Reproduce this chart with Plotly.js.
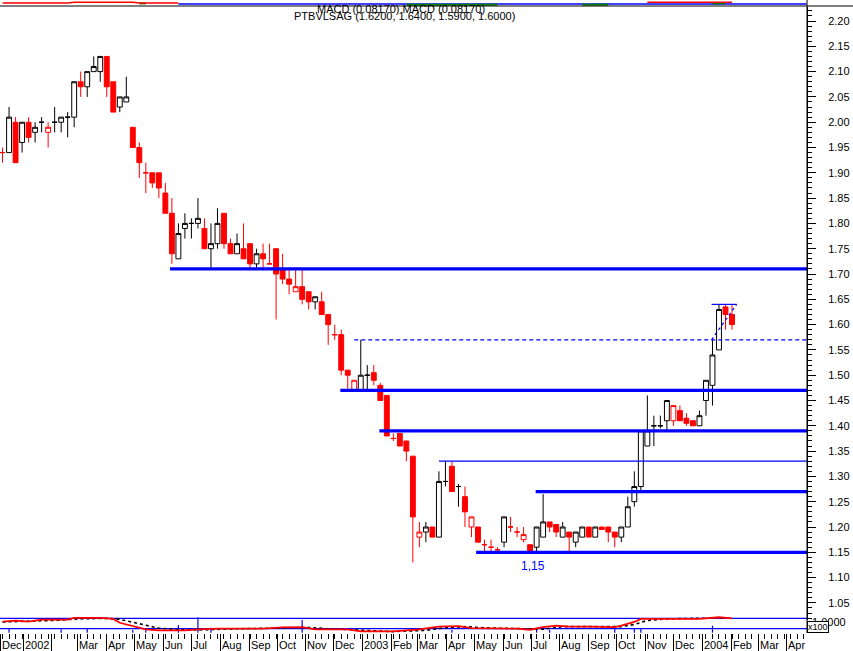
<!DOCTYPE html>
<html>
<head>
<meta charset="utf-8">
<script src="https://cdn.plot.ly/plotly-3.0.1.min.js"></script>
<style>
html,body{margin:0;padding:0;background:#fff;}
#chart{width:853px;height:651px;}
</style>
</head>
<body>
<div id="chart"></div>
<script>
// ---------- weekly candles ----------
const dates = [
'2001-12-10','2001-12-17','2001-12-24','2001-12-31',
'2002-01-07','2002-01-14','2002-01-21','2002-01-28','2002-02-04','2002-02-11','2002-02-18','2002-02-25',
'2002-03-04','2002-03-11','2002-03-18','2002-03-25','2002-04-01','2002-04-08','2002-04-15','2002-04-22','2002-04-29',
'2002-05-06','2002-05-13','2002-05-20','2002-05-27','2002-06-03','2002-06-10','2002-06-17','2002-06-24',
'2002-07-01','2002-07-08','2002-07-15','2002-07-22','2002-07-29','2002-08-05','2002-08-12','2002-08-19','2002-08-26',
'2002-09-02','2002-09-09','2002-09-16','2002-09-23','2002-09-30','2002-10-07','2002-10-14','2002-10-21','2002-10-28',
'2002-11-04','2002-11-11','2002-11-18','2002-11-25','2002-12-02','2002-12-09','2002-12-16','2002-12-23','2002-12-30',
'2003-01-06','2003-01-13','2003-01-20','2003-01-27','2003-02-03','2003-02-10','2003-02-17','2003-02-24',
'2003-03-03','2003-03-10','2003-03-17','2003-03-24','2003-03-31','2003-04-07','2003-04-14','2003-04-21','2003-04-28',
'2003-05-05','2003-05-12','2003-05-19','2003-05-26','2003-06-02','2003-06-09','2003-06-16','2003-06-23','2003-06-30',
'2003-07-07','2003-07-14','2003-07-21','2003-07-28','2003-08-04','2003-08-11','2003-08-18','2003-08-25',
'2003-09-01','2003-09-08','2003-09-15','2003-09-22','2003-09-29','2003-10-06','2003-10-13','2003-10-20','2003-10-27',
'2003-11-03','2003-11-10','2003-11-17','2003-11-24','2003-12-01','2003-12-08','2003-12-15','2003-12-22','2003-12-29',
'2004-01-05','2004-01-12','2004-01-19','2004-01-26','2004-02-02'
];
const openP = [
1.94,1.94,2.00,1.96,2.00,1.98,2.00,1.98,2.00,2.00,2.01,2.01,2.08,2.07,2.10,2.10,2.13,2.08,2.03,2.04,
1.99,1.95,1.90,1.90,1.90,1.86,1.82,1.73,1.79,1.80,1.80,1.79,1.75,1.76,1.82,1.76,1.74,1.75,1.76,1.72,
1.74,1.72,1.75,1.71,1.69,1.665,1.675,1.665,1.645,1.645,1.62,1.58,1.58,1.51,1.47,1.47,1.50,1.505,1.48,1.46,
1.375,1.385,1.37,1.34,1.18,1.19,1.20,1.18,1.29,1.32,1.28,1.26,1.20,1.20,1.165,1.16,1.155,1.17,1.20,1.19,
1.175,1.165,1.16,1.18,1.21,1.205,1.18,1.19,1.17,1.18,1.20,1.18,1.20,1.20,1.19,1.18,1.20,1.25,1.28,1.36,
1.40,1.40,1.41,1.41,1.43,1.415,1.41,1.40,1.45,1.48,1.55,1.635,1.62
];
const highP = [
1.95,2.03,2.01,2.00,2.01,2.00,2.01,2.00,2.03,2.01,2.02,2.08,2.10,2.10,2.13,2.13,2.13,2.08,2.05,2.09,
1.99,1.96,1.92,1.90,1.90,1.88,1.85,1.80,1.82,1.81,1.85,1.81,1.80,1.83,1.82,1.77,1.78,1.80,1.76,1.75,
1.76,1.76,1.75,1.74,1.71,1.71,1.71,1.665,1.655,1.665,1.62,1.60,1.59,1.51,1.49,1.57,1.52,1.52,1.485,1.46,
1.385,1.385,1.37,1.34,1.21,1.21,1.20,1.31,1.33,1.33,1.285,1.28,1.22,1.20,1.175,1.175,1.16,1.22,1.22,1.20,
1.20,1.165,1.20,1.265,1.21,1.205,1.21,1.19,1.19,1.20,1.20,1.20,1.20,1.20,1.19,1.20,1.26,1.31,1.39,1.46,
1.42,1.42,1.45,1.44,1.44,1.425,1.41,1.43,1.49,1.57,1.64,1.64,1.64
];
const lowP = [
1.92,1.94,1.92,1.94,1.96,1.96,1.98,1.95,1.98,1.98,1.97,1.99,2.05,2.05,2.10,2.08,2.05,2.02,2.02,2.04,
1.95,1.89,1.86,1.87,1.85,1.82,1.72,1.73,1.77,1.77,1.79,1.75,1.71,1.75,1.75,1.74,1.74,1.73,1.71,1.71,
1.71,1.72,1.61,1.68,1.66,1.665,1.64,1.63,1.63,1.62,1.56,1.57,1.50,1.47,1.47,1.47,1.47,1.48,1.45,1.38,
1.37,1.36,1.33,1.13,1.16,1.17,1.18,1.18,1.28,1.27,1.24,1.20,1.18,1.17,1.15,1.15,1.15,1.16,1.19,1.18,
1.17,1.15,1.15,1.18,1.19,1.18,1.18,1.15,1.16,1.18,1.18,1.18,1.195,1.17,1.16,1.17,1.20,1.24,1.27,1.36,
1.36,1.395,1.39,1.40,1.41,1.40,1.40,1.40,1.42,1.44,1.55,1.59,1.59
];
const closeP = [
1.94,2.01,1.92,2.00,1.97,1.99,2.00,1.99,2.00,2.01,2.01,2.08,2.07,2.10,2.11,2.13,2.07,2.02,2.05,2.05,
1.95,1.92,1.90,1.88,1.87,1.82,1.74,1.78,1.80,1.80,1.81,1.75,1.76,1.80,1.76,1.74,1.76,1.73,1.72,1.74,
1.73,1.72,1.70,1.69,1.68,1.675,1.65,1.645,1.655,1.62,1.60,1.58,1.51,1.50,1.49,1.50,1.50,1.49,1.45,1.38,
1.375,1.36,1.35,1.22,1.19,1.20,1.18,1.29,1.29,1.27,1.28,1.23,1.22,1.17,1.165,1.16,1.155,1.22,1.20,1.19,
1.185,1.15,1.20,1.21,1.20,1.19,1.20,1.18,1.19,1.20,1.18,1.20,1.195,1.19,1.18,1.20,1.24,1.28,1.39,1.39,
1.40,1.40,1.45,1.44,1.41,1.405,1.40,1.42,1.49,1.54,1.63,1.62,1.60
];
const startPrevClose = 1.95;

// ---------- drawn support / resistance lines ----------
const levelValues = [1.71, 1.57, 1.47, 1.39, 1.33, 1.27, 1.15];
const levelStarts = ['2002-06-08','2002-12-23','2002-12-08','2003-01-19','2003-03-24','2003-07-06','2003-05-03'];
const capX = ['2004-01-11','2004-02-07'];
const capY = [1.64, 1.64];
const trendX = ['2004-01-11','2004-02-07'];
const trendY = [1.57, 1.64];
const supportLabel = {x: '2003-07-02 18:00', y: 1.123, text: '1,15'};

// ---------- lower indicator panel ----------
const oscDates = ['2001-12-10','2001-12-24','2002-01-07','2002-01-21','2002-02-18','2002-02-25','2002-03-25','2002-04-08',
'2002-04-15','2002-04-29','2002-05-13','2002-05-27','2002-06-24','2002-07-08','2002-07-29','2002-09-16','2002-10-07',
'2002-10-28','2002-11-11','2002-12-16','2002-12-30','2003-02-03','2003-03-03','2003-03-24','2003-04-14','2003-04-28',
'2003-05-26','2003-06-16','2003-06-30','2003-07-14','2003-07-28','2003-08-11','2003-09-01','2003-09-29','2003-10-06',
'2003-10-20','2003-10-27','2003-11-17','2003-12-08','2003-12-29','2004-01-19','2004-02-02'];
const oscValues = [0.69,0.78,0.69,0.88,0.88,1.04,1.04,0.94,0.57,0.25,-0.07,-0.16,-0.16,-0.07,0,0,0.12,
0.15,-0.07,-0.07,-0.25,-0.25,-0.07,0.2,0.25,0.05,0,0,-0.1,0.15,0.3,0.2,0.2,0.15,0.3,0.65,0.94,0.94,1.0,0.94,1.1,1.0];
const sigDates = ['2001-12-10','2002-01-07','2002-02-04','2002-03-04','2002-04-01','2002-04-15','2002-04-29','2002-05-13',
'2002-05-27','2002-06-17','2002-07-08','2002-08-12','2002-10-07','2002-11-04','2002-11-25','2002-12-30','2003-02-03',
'2003-03-10','2003-03-31','2003-04-21','2003-05-12','2003-06-23','2003-07-14','2003-08-04','2003-09-01','2003-10-06',
'2003-10-20','2003-11-03','2003-11-24','2003-12-22','2004-01-19','2004-02-02'];
const sigValues = [0.65,0.72,0.8,0.95,1.0,0.9,0.6,0.3,0.05,-0.1,-0.12,-0.02,0.08,0.12,0.0,-0.15,-0.28,
-0.15,0.1,0.2,0.08,0.0,-0.05,0.2,0.22,0.2,0.4,0.8,0.95,0.98,1.0,1.05];
const oscBands = [0, 1];
const spikeDates = ['2001-12-17','2002-02-11','2002-03-11','2002-04-29','2002-05-13','2002-06-17','2002-07-08','2002-07-22',
'2002-10-28','2003-04-07','2003-07-07','2003-07-21','2003-09-29','2003-10-20','2003-10-27','2004-01-12'];
const spikeTops = [0,-0.06,0,-0.13,-0.08,0.36,1.1,0.1,0.84,-0.13,-0.13,-0.13,0.04,0.04,0.04,0.29];
const spikeBase = -0.385;

// ---------- top MACD strip (bottom edge of the MACD pane) ----------
const macdDates = ['2001-12-10','2002-02-18','2002-02-25','2002-04-29','2002-05-06','2002-06-17','2002-06-24'];
const macdValues = [3, 3, 3.8, 3.8, 3, 3, null];
const macdLateDates = ['2003-11-03','2004-02-02'];
const macdLateValues = [3.8, 3.8];
const signalDates = ['2002-06-17','2004-04-22'];
const signalValues = [2, 2];
const histDates = ['2002-05-06','2002-05-13',null,'2003-02-17','2003-05-26',null,'2003-08-25','2003-09-22',null,'2004-01-12','2004-01-26'];
const histValues = [2.6,2.6,null,1.3,1.3,null,1.3,1.3,null,2.6,2.6];
const macdText = 'MACD (0.08170) MACD (0.08170)';
const symbol = 'PTBVLSAG';

// ---------- axes ----------
const monthTicks = ['2001-12-08','2002-01-01','2002-02-01','2002-03-01','2002-04-01','2002-05-01','2002-06-01','2002-07-01',
'2002-08-01','2002-09-01','2002-10-01','2002-11-01','2002-12-01','2003-01-01','2003-02-01','2003-03-01','2003-04-01',
'2003-05-01','2003-06-01','2003-07-01','2003-08-01','2003-09-01','2003-10-01','2003-11-01','2003-12-01','2004-01-01',
'2004-02-01','2004-03-01','2004-04-01'];
const monthLabels = ['Dec','2002','','Mar','Apr','May','Jun','Jul','Aug','Sep','Oct','Nov','Dec','2003','Feb','Mar','Apr',
'May','Jun','Jul','Aug','Sep','Oct','Nov','Dec','2004','Feb','Mar','Apr'];
const xRange = ['2001-12-07 06:30','2004-04-22 14:00'];

// ---------- build ----------
const RED = '#ff0000', BLUE = '#0000ff', BLACK = '#000000', GREEN = '#008000';
const W = 853, H = 651, PLOTW = 807;
const py = p => 1 - p / H;   // pixel row -> paper y
const px = p => p / PLOTW;   // pixel col -> paper x

const redIdx = [], blackIdx = [];
closeP.forEach((c, i) => {
  const prev = i ? closeP[i - 1] : startPrevClose;
  (c < prev ? redIdx : blackIdx).push(i);
});
function candles(idx, col) {
  return {
    type: 'candlestick', xaxis: 'x', yaxis: 'y',
    x: idx.map(i => dates[i]), open: idx.map(i => openP[i]), high: idx.map(i => highP[i]),
    low: idx.map(i => lowP[i]), close: idx.map(i => closeP[i]),
    increasing: {line: {color: col, width: 1}, fillcolor: '#ffffff'},
    decreasing: {line: {color: col, width: 1}, fillcolor: col},
    whiskerwidth: 0, hoverinfo: 'skip', showlegend: false
  };
}
const traces = [candles(blackIdx, BLACK), candles(redIdx, RED)];

const levelWidths = [3.2, 1.2, 3.2, 3.2, 1.2, 3.2, 3.2];
const levelDash = ['solid', '4px,3px', 'solid', 'solid', 'solid', 'solid', 'solid'];
levelValues.forEach((v, k) => {
  traces.push({type: 'scatter', mode: 'lines', xaxis: 'x', yaxis: 'y',
    x: [levelStarts[k], xRange[1]], y: [v, v],
    line: {color: BLUE, width: levelWidths[k], dash: levelDash[k]}, hoverinfo: 'skip', showlegend: false});
});
traces.push({type: 'scatter', mode: 'lines', x: capX, y: capY, line: {color: BLUE, width: 1.2}, hoverinfo: 'skip', showlegend: false});
traces.push({type: 'scatter', mode: 'lines', x: trendX, y: trendY, line: {color: BLUE, width: 1.2, dash: 'dot'}, hoverinfo: 'skip', showlegend: false});

// lower panel
oscBands.forEach(v => traces.push({type: 'scatter', mode: 'lines', xaxis: 'x', yaxis: 'y2',
  x: xRange, y: [v, v], line: {color: BLUE, width: 1.3}, hoverinfo: 'skip', showlegend: false}));
const sx = [], sy = [];
spikeDates.forEach((d, k) => { sx.push(d, d, null); sy.push(spikeBase, spikeTops[k], null); });
traces.push({type: 'scatter', mode: 'lines', xaxis: 'x', yaxis: 'y2', x: sx, y: sy,
  line: {color: BLUE, width: 1.2}, hoverinfo: 'skip', showlegend: false});
traces.push({type: 'scatter', mode: 'lines', xaxis: 'x', yaxis: 'y2', x: sigDates, y: sigValues,
  line: {color: BLACK, width: 1.6, dash: 'dot'}, hoverinfo: 'skip', showlegend: false});
traces.push({type: 'scatter', mode: 'lines', xaxis: 'x', yaxis: 'y2', x: oscDates, y: oscValues,
  line: {color: RED, width: 1.8}, hoverinfo: 'skip', showlegend: false});

// top strip
traces.push({type: 'scatter', mode: 'lines', xaxis: 'x', yaxis: 'y3', x: signalDates, y: signalValues,
  line: {color: BLUE, width: 1.3}, hoverinfo: 'skip', showlegend: false});
traces.push({type: 'scatter', mode: 'lines', xaxis: 'x', yaxis: 'y3', x: histDates, y: histValues,
  line: {color: GREEN, width: 2}, hoverinfo: 'skip', showlegend: false, connectgaps: false});
traces.push({type: 'scatter', mode: 'lines', xaxis: 'x', yaxis: 'y3', x: macdDates, y: macdValues,
  line: {color: RED, width: 1.6}, hoverinfo: 'skip', showlegend: false});
traces.push({type: 'scatter', mode: 'lines', xaxis: 'x', yaxis: 'y3', x: macdLateDates, y: macdLateValues,
  line: {color: RED, width: 1.6}, hoverinfo: 'skip', showlegend: false});

const last = closeP.length - 1;
const headline = symbol + ' (' + [openP[last], highP[last], lowP[last], closeP[last]].map(v => v.toFixed(4)).join(', ') + ')';
const FONT = 'Liberation Sans, Arial, sans-serif';

// month labels sit just right of each month separator tick
const monthAnnotations = monthTicks.map((d, k) => ({
  xref: 'x', yref: 'paper', x: d, y: py(644.5), text: monthLabels[k], showarrow: false,
  xanchor: 'left', yanchor: 'middle', xshift: 0.5, borderpad: 0,
  font: {family: FONT, size: 11, color: BLACK}
})).filter(a => a.text !== '');

const layout = {
  width: W, height: H,
  margin: {l: 0, r: W - PLOTW, t: 0, b: 0, pad: 0},
  paper_bgcolor: '#ffffff', plot_bgcolor: 'rgba(0,0,0,0)',
  showlegend: false, dragmode: false,
  boxgap: 0.25, boxgroupgap: 0,
  font: {family: FONT, size: 11, color: BLACK},
  xaxis: {
    type: 'date', range: xRange, anchor: 'free', position: py(632.7),
    showgrid: false, zeroline: false, showline: false, showticklabels: false,
    tickmode: 'array', tickvals: monthTicks,
    ticks: 'outside', ticklen: 17.5, tickwidth: 1, tickcolor: BLACK,
    minor: {tickmode: 'linear', tick0: '2001-12-10', dtick: 7 * 86400000, ticks: 'outside', ticklen: 5.5, tickwidth: 1, tickcolor: BLACK, showgrid: false},
    rangeslider: {visible: false}, fixedrange: true
  },
  yaxis: {
    domain: [py(620), py(6.5)], range: [1.0162, 2.2287], side: 'right', anchor: 'x',
    showgrid: false, zeroline: false, showline: true, linecolor: BLACK, linewidth: 1,
    tickmode: 'linear', tick0: 0, dtick: 0.05, tickformat: '.2f',
    ticks: 'outside', ticklen: 8, tickwidth: 1, tickcolor: BLACK, ticklabelstandoff: 10,
    tickfont: {family: FONT, size: 11, color: BLACK},
    minor: {dtick: 0.01, ticks: 'outside', ticklen: 4, tickwidth: 1, tickcolor: BLACK, showgrid: false},
    fixedrange: true
  },
  yaxis2: {domain: [py(634), py(610)], range: [-0.51, 1.80], visible: false, fixedrange: true},
  yaxis3: {domain: [py(6), 1], range: [0, 6], visible: false, fixedrange: true},
  shapes: [
    {type: 'line', xref: 'paper', yref: 'paper', x0: 0, x1: W / PLOTW, y0: py(6), y1: py(6), line: {color: BLACK, width: 1}},
    {type: 'line', xref: 'paper', yref: 'paper', x0: 1, x1: 1, y0: py(633), y1: 1, line: {color: BLACK, width: 1}}
  ],
  annotations: [
    {xref: 'paper', yref: 'paper', x: px(401), y: py(8.5), text: macdText, showarrow: false,
     xanchor: 'center', yanchor: 'middle', font: {family: FONT, size: 11, color: BLACK}},
    {xref: 'paper', yref: 'paper', x: px(404), y: py(16.5), text: headline, showarrow: false,
     xanchor: 'center', yanchor: 'middle', font: {family: FONT, size: 11, color: BLACK}},
    {xref: 'x', yref: 'y', x: supportLabel.x, y: supportLabel.y, text: supportLabel.text, showarrow: false,
     xanchor: 'center', yanchor: 'middle', font: {family: FONT, size: 12, color: BLUE}},
    {xref: 'paper', yref: 'paper', x: px(848), y: py(622), text: '1.0000', showarrow: false,
     xanchor: 'right', yanchor: 'middle', font: {family: FONT, size: 11, color: BLACK}},
    {xref: 'paper', yref: 'paper', x: px(818), y: py(626.5), text: 'x100', showarrow: false,
     xanchor: 'center', yanchor: 'middle', bgcolor: '#ffffff', bordercolor: BLACK, borderwidth: 1, borderpad: 0,
     font: {family: FONT, size: 9, color: BLACK}}
  ].concat(monthAnnotations)
};

Plotly.newPlot('chart', traces, layout, {staticPlot: true, displayModeBar: false});
</script>
</body>
</html>
